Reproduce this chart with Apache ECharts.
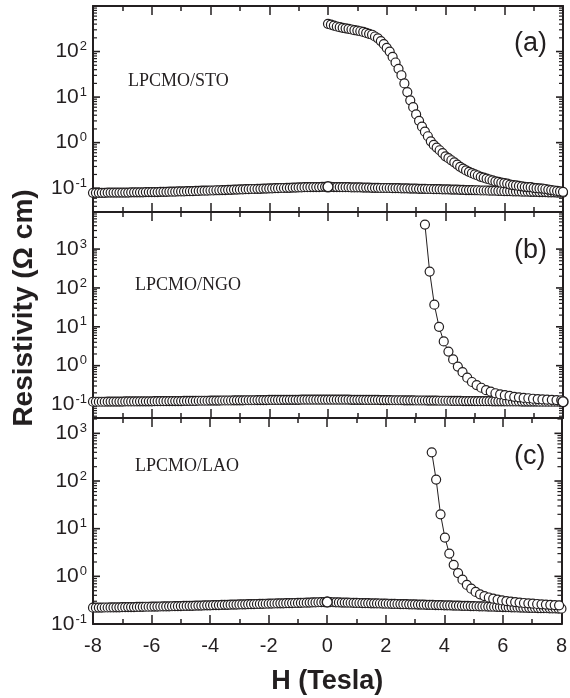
<!DOCTYPE html>
<html>
<head>
<meta charset="utf-8">
<script src="https://cdn.jsdelivr.net/npm/echarts@6/dist/echarts.min.js"></script>
<style>
html, body { margin: 0; padding: 0; background: #fff; }
#chart { width: 570px; height: 698px; }
</style>
</head>
<body>
<div id="chart"></div>
<script>
// field sweep -8 .. 8 T (Tesla), shared by the low-resistance branches
var sweepField = [
    -8.0, -7.9, -7.8, -7.7, -7.6, -7.5, -7.4, -7.3, -7.2, -7.1,
    -7.0, -6.9, -6.8, -6.7, -6.6, -6.5, -6.4, -6.3, -6.2, -6.1,
    -6.0, -5.9, -5.8, -5.7, -5.6, -5.5, -5.4, -5.3, -5.2, -5.1,
    -5.0, -4.9, -4.8, -4.7, -4.6, -4.5, -4.4, -4.3, -4.2, -4.1,
    -4.0, -3.9, -3.8, -3.7, -3.6, -3.5, -3.4, -3.3, -3.2, -3.1,
    -3.0, -2.9, -2.8, -2.7, -2.6, -2.5, -2.4, -2.3, -2.2, -2.1,
    -2.0, -1.9, -1.8, -1.7, -1.6, -1.5, -1.4, -1.3, -1.2, -1.1,
    -1.0, -0.9, -0.8, -0.7, -0.6, -0.5, -0.4, -0.3, -0.2, -0.1,
    0.0,
    0.1, 0.2, 0.3, 0.4, 0.5, 0.6, 0.7, 0.8, 0.9, 1.0,
    1.1, 1.2, 1.3, 1.4, 1.5, 1.6, 1.7, 1.8, 1.9, 2.0,
    2.1, 2.2, 2.3, 2.4, 2.5, 2.6, 2.7, 2.8, 2.9, 3.0,
    3.1, 3.2, 3.3, 3.4, 3.5, 3.6, 3.7, 3.8, 3.9, 4.0,
    4.1, 4.2, 4.3, 4.4, 4.5, 4.6, 4.7, 4.8, 4.9, 5.0,
    5.1, 5.2, 5.3, 5.4, 5.5, 5.6, 5.7, 5.8, 5.9, 6.0,
    6.1, 6.2, 6.3, 6.4, 6.5, 6.6, 6.7, 6.8, 6.9, 7.0,
    7.1, 7.2, 7.3, 7.4, 7.5, 7.6, 7.7, 7.8, 7.9, 8.0
];

// (a) LPCMO/STO
var lowA = [
    0.079, 0.079, 0.079, 0.079, 0.079, 0.080, 0.080, 0.080, 0.080, 0.080,
    0.080, 0.080, 0.080, 0.081, 0.081, 0.081, 0.081, 0.081, 0.082, 0.082,
    0.082, 0.082, 0.082, 0.083, 0.083, 0.083, 0.084, 0.084, 0.084, 0.085,
    0.085, 0.085, 0.086, 0.086, 0.086, 0.087, 0.087, 0.088, 0.088, 0.088,
    0.089, 0.089, 0.090, 0.090, 0.091, 0.091, 0.092, 0.092, 0.093, 0.093,
    0.094, 0.094, 0.095, 0.095, 0.096, 0.096, 0.097, 0.097, 0.098, 0.098,
    0.099, 0.099, 0.100, 0.100, 0.101, 0.101, 0.102, 0.102, 0.103, 0.103,
    0.104, 0.104, 0.105, 0.105, 0.105, 0.106, 0.106, 0.106, 0.107, 0.107,
    0.107,
    0.107, 0.106, 0.106, 0.106, 0.105, 0.105, 0.105, 0.104, 0.104, 0.104,
    0.104, 0.103, 0.103, 0.103, 0.102, 0.102, 0.102, 0.101, 0.101, 0.101,
    0.101, 0.100, 0.100, 0.100, 0.099, 0.099, 0.099, 0.098, 0.098, 0.098,
    0.097, 0.097, 0.097, 0.096, 0.096, 0.095, 0.095, 0.095, 0.094, 0.094,
    0.094, 0.093, 0.093, 0.093, 0.092, 0.092, 0.091, 0.091, 0.091, 0.090,
    0.090, 0.089, 0.089, 0.089, 0.088, 0.088, 0.088, 0.087, 0.087, 0.086,
    0.086, 0.086, 0.085, 0.085, 0.085, 0.084, 0.084, 0.084, 0.083, 0.083,
    0.083, 0.082, 0.082, 0.082, 0.081, 0.081, 0.081, 0.080, 0.080, 0.080
];
// virgin curve 0 -> 8 T, same 0.1 T steps
var highFieldA = sweepField.slice(80);
var highA = [
    407, 389, 372, 355, 343, 331, 324, 316, 305, 295,
    288, 279, 269, 257, 245, 234, 214, 195, 170, 145,
    120, 100, 76, 57.5, 41.7, 30.2, 20, 12.9, 8.5, 6.0,
    4.17, 3.02, 2.24, 1.74, 1.38, 1.07, 0.89, 0.78, 0.68, 0.59,
    0.50, 0.457, 0.41, 0.37, 0.33, 0.295, 0.27, 0.245, 0.229, 0.214,
    0.200, 0.190, 0.178, 0.170, 0.162, 0.155, 0.148, 0.141, 0.138, 0.132,
    0.129, 0.126, 0.120, 0.117, 0.115, 0.112, 0.110, 0.107, 0.106, 0.105,
    0.102, 0.100, 0.099, 0.098, 0.096, 0.093, 0.091, 0.089, 0.087, 0.085,
    0.083
];

// (b) LPCMO/NGO
var lowB = [
    0.118, 0.118, 0.118, 0.118, 0.118, 0.119, 0.119, 0.119, 0.119, 0.119,
    0.119, 0.120, 0.120, 0.120, 0.120, 0.120, 0.121, 0.121, 0.121, 0.121,
    0.121, 0.122, 0.122, 0.122, 0.122, 0.122, 0.123, 0.123, 0.123, 0.123,
    0.123, 0.124, 0.124, 0.124, 0.124, 0.124, 0.125, 0.125, 0.125, 0.125,
    0.126, 0.126, 0.126, 0.126, 0.127, 0.127, 0.127, 0.127, 0.128, 0.128,
    0.128, 0.128, 0.129, 0.129, 0.129, 0.129, 0.130, 0.130, 0.130, 0.130,
    0.131, 0.131, 0.131, 0.131, 0.131, 0.132, 0.132, 0.132, 0.132, 0.132,
    0.132, 0.133, 0.133, 0.133, 0.133, 0.133, 0.133, 0.133, 0.133, 0.133,
    0.133,
    0.133, 0.133, 0.133, 0.133, 0.133, 0.133, 0.133, 0.132, 0.132, 0.132,
    0.132, 0.132, 0.131, 0.131, 0.131, 0.131, 0.131, 0.130, 0.130, 0.130,
    0.130, 0.129, 0.129, 0.129, 0.129, 0.128, 0.128, 0.128, 0.128, 0.127,
    0.127, 0.127, 0.127, 0.126, 0.126, 0.126, 0.126, 0.125, 0.125, 0.125,
    0.125, 0.124, 0.124, 0.124, 0.124, 0.123, 0.123, 0.123, 0.123, 0.123,
    0.122, 0.122, 0.122, 0.122, 0.122, 0.121, 0.121, 0.121, 0.121, 0.121,
    0.120, 0.120, 0.120, 0.120, 0.120, 0.119, 0.119, 0.119, 0.119, 0.119,
    0.119, 0.118, 0.118, 0.118, 0.118, 0.118, 0.118, 0.118, 0.118, 0.118
];
var highFieldB = [
    3.30, 3.46, 3.62, 3.78, 3.94, 4.10, 4.26, 4.42, 4.58, 4.74,
    4.90, 5.06, 5.22, 5.38, 5.54, 5.70, 5.86, 6.02, 6.18, 6.34,
    6.50, 6.66, 6.82, 6.98, 7.14, 7.30, 7.46, 7.62, 7.78, 7.94
];
var highB = [
    4270, 263, 37, 10, 4.2, 2.3, 1.45, 0.95, 0.68, 0.49,
    0.38, 0.316, 0.27, 0.234, 0.214, 0.195, 0.182, 0.174, 0.166, 0.158,
    0.153, 0.148, 0.145, 0.141, 0.138, 0.135, 0.133, 0.132, 0.130, 0.129
];

// (c) LPCMO/LAO
var lowC = [
    0.220, 0.220, 0.221, 0.221, 0.222, 0.222, 0.223, 0.223, 0.224, 0.224,
    0.225, 0.225, 0.226, 0.227, 0.227, 0.228, 0.228, 0.229, 0.230, 0.230,
    0.231, 0.232, 0.232, 0.233, 0.234, 0.234, 0.235, 0.236, 0.237, 0.237,
    0.238, 0.239, 0.240, 0.241, 0.241, 0.242, 0.243, 0.244, 0.245, 0.246,
    0.247, 0.248, 0.249, 0.250, 0.251, 0.252, 0.253, 0.254, 0.255, 0.256,
    0.257, 0.258, 0.259, 0.260, 0.261, 0.262, 0.263, 0.264, 0.265, 0.266,
    0.267, 0.268, 0.269, 0.270, 0.271, 0.272, 0.273, 0.274, 0.275, 0.276,
    0.277, 0.278, 0.279, 0.280, 0.282, 0.283, 0.284, 0.286, 0.287, 0.288,
    0.290,
    0.288, 0.286, 0.285, 0.283, 0.282, 0.281, 0.280, 0.279, 0.278, 0.277,
    0.276, 0.275, 0.274, 0.273, 0.272, 0.271, 0.270, 0.269, 0.268, 0.267,
    0.266, 0.265, 0.264, 0.263, 0.262, 0.261, 0.260, 0.259, 0.258, 0.257,
    0.256, 0.255, 0.254, 0.253, 0.252, 0.251, 0.250, 0.249, 0.248, 0.247,
    0.246, 0.245, 0.244, 0.243, 0.242, 0.241, 0.240, 0.239, 0.238, 0.237,
    0.236, 0.235, 0.234, 0.233, 0.232, 0.231, 0.230, 0.229, 0.228, 0.227,
    0.226, 0.225, 0.224, 0.223, 0.222, 0.221, 0.220, 0.219, 0.218, 0.217,
    0.217, 0.216, 0.215, 0.215, 0.214, 0.213, 0.212, 0.212, 0.211, 0.210
];
var highFieldC = [
    3.57, 3.72, 3.87, 4.02, 4.17, 4.32, 4.47, 4.62, 4.77, 4.92,
    5.07, 5.22, 5.37, 5.52, 5.67, 5.82, 5.97, 6.12, 6.27, 6.42,
    6.57, 6.72, 6.87, 7.02, 7.17, 7.32, 7.47, 7.62, 7.77, 7.92
];
var highC = [
    400, 107, 20, 6.5, 3.0, 1.74, 1.17, 0.85, 0.66, 0.55,
    0.47, 0.42, 0.385, 0.36, 0.34, 0.325, 0.312, 0.303, 0.295, 0.288,
    0.281, 0.276, 0.271, 0.267, 0.263, 0.259, 0.256, 0.253, 0.250, 0.247
];

// starting points drawn as open white dots on top
var startA = [[0, 0.107]];
var startB = [[8, 0.118]];
var startC = [[0, 0.290]];

var samples = ['LPCMO/STO', 'LPCMO/NGO', 'LPCMO/LAO'];
var tags = ['(a)', '(b)', '(c)'];
var yMin = [0.03, 0.045, 0.1];
var yMax = [1000, 9000, 2100];

var INK = '#231f20';
var panelTop = [6, 212, 418];
var panelH = 206;

// log tick positions: decades (major) and 2..9 x 10^n (minor)
var logTicks = [];
for (var e = -2; e <= 4; e++) {
    logTicks.push([Math.pow(10, e), 1]);
    for (var m = 2; m <= 9; m++) logTicks.push([m * Math.pow(10, e), 0]);
}

function pares(xs, ys) {
    return xs.map(function (x, i) { return [x, ys[i]]; });
}

function expLabel(v) {
    var l = Math.log10(v);
    var e = Math.round(l);
    if (Math.abs(l - e) > 0.01) return '';
    return '10{sup|' + e + '}';
}

var grids = [], xAxes = [], yAxes = [], series = [];

panelTop.forEach(function (top, k) {
    grids.push({ left: 93, right: 7, top: top, height: panelH });
    ['bottom', 'top'].forEach(function (pos) {
        xAxes.push({
            gridIndex: k,
            type: 'value',
            position: pos,
            min: -8, max: 8, interval: 2,
            axisLine: { onZero: false, lineStyle: { color: INK, width: 2 } },
            axisTick: { show: true, inside: true, length: 9, lineStyle: { color: INK, width: 1.5 } },
            minorTick: { show: true, splitNumber: 2, length: 5, lineStyle: { color: INK, width: 1.5 } },
            splitLine: { show: false },
            axisLabel: {
                show: k === 2 && pos === 'bottom',
                color: INK, fontFamily: 'Liberation Sans', fontSize: 20, margin: 12
            },
            name: (k === 2 && pos === 'bottom') ? 'H (Tesla)' : '',
            nameLocation: 'middle', nameGap: 44,
            nameTextStyle: { color: INK, fontFamily: 'Liberation Sans', fontWeight: 'bold', fontSize: 27 }
        });
    });
    ['left', 'right'].forEach(function (pos) {
        yAxes.push({
            gridIndex: k,
            type: 'log',
            position: pos,
            min: yMin[k], max: yMax[k],
            axisLine: { show: true, onZero: false, lineStyle: { color: INK, width: 2 } },
            axisTick: { show: false },
            splitLine: { show: false },
            axisLabel: {
                show: pos === 'left',
                showMaxLabel: false,
                formatter: expLabel,
                color: INK, fontFamily: 'Liberation Sans', fontSize: 21, margin: 6,
                rich: { sup: { fontSize: 13, verticalAlign: 'top', padding: [0, 0, 10, 1] } }
            }
        });
    });
});

function curva(k, data, z) {
    return {
        type: 'line',
        xAxisIndex: 2 * k, yAxisIndex: 2 * k,
        data: data,
        symbol: 'circle', symbolSize: 9,
        itemStyle: { color: '#fff', borderColor: INK, borderWidth: 1.2 },
        lineStyle: { color: INK, width: 1 },
        z: z || 2
    };
}

// inward log ticks on both side frames, placed through the panel's own scales
function marcas(k) {
    var datos = logTicks.filter(function (t) {
        return t[0] >= yMin[k] && t[0] <= yMax[k];
    }).map(function (t) { return [-8, t[0], t[1]]; });
    return {
        type: 'custom',
        xAxisIndex: 2 * k, yAxisIndex: 2 * k,
        silent: true, z: 1,
        encode: { x: 0, y: 1 },
        data: datos,
        renderItem: function (params, api) {
            var v = api.value(1);
            var mayor = api.value(2) === 1;
            var len = mayor ? 7 : 4;
            var lw = mayor ? 1.6 : 1.2;
            var pl = api.coord([-8, v]);
            var pr = api.coord([8, v]);
            return {
                type: 'group',
                children: [
                    { type: 'line', shape: { x1: pl[0], y1: pl[1], x2: pl[0] + len, y2: pl[1] },
                      style: { stroke: INK, lineWidth: lw } },
                    { type: 'line', shape: { x1: pr[0], y1: pr[1], x2: pr[0] - len, y2: pr[1] },
                      style: { stroke: INK, lineWidth: lw } }
                ]
            };
        }
    };
}

[0, 1, 2].forEach(function (k) { series.push(marcas(k)); });
series.push(curva(0, pares(sweepField, lowA)));
series.push(curva(0, pares(highFieldA, highA)));
series.push(curva(1, pares(sweepField, lowB)));
series.push(curva(1, pares(highFieldB, highB)));
series.push(curva(2, pares(sweepField, lowC)));
series.push(curva(2, pares(highFieldC, highC)));
[startA, startB, startC].forEach(function (d, k) {
    var s = curva(k, d, 5);
    s.symbolSize = 10;
    s.itemStyle = { color: '#fff', borderColor: INK, borderWidth: 1.5 };
    series.push(s);
});

var graphic = [];
var labY = [82, 286, 467];
var tagY = [45, 252, 458];
samples.forEach(function (t, k) {
    graphic.push({
        type: 'text', left: k === 0 ? 128 : 135, top: labY[k] - 10,
        style: { text: t, fill: INK, font: '18px "Liberation Serif"' }
    });
    graphic.push({
        type: 'text', left: 514, top: tagY[k] - 15,
        style: { text: tags[k], fill: INK, font: '27px "Liberation Sans"' }
    });
});
graphic.push({
    type: 'text', x: 24, y: 308, rotation: Math.PI / 2,
    style: {
        text: 'Resistivity (\u03A9 cm)', fill: INK,
        font: 'bold 28px "Liberation Sans"', align: 'center', verticalAlign: 'middle'
    }
});

var chart = echarts.init(document.getElementById('chart'), null, { renderer: 'canvas' });
chart.setOption({
    animation: false,
    backgroundColor: '#fff',
    grid: grids,
    xAxis: xAxes,
    yAxis: yAxes,
    series: series,
    graphic: graphic
});
</script>
</body>
</html>
